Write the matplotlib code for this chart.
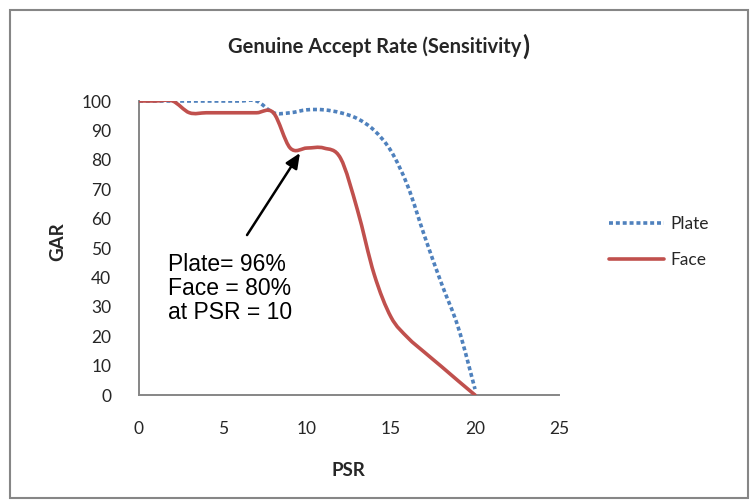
import matplotlib
matplotlib.use("Agg")
import matplotlib.pyplot as plt
from matplotlib.path import Path
from matplotlib.patches import PathPatch, Rectangle
from matplotlib.lines import Line2D

# PSR values and genuine accept rates (%)
psr = [0, 1, 2, 3, 4, 5, 6, 7, 8, 9, 10, 11, 12, 13, 14, 15, 16, 17, 18, 19, 20]
gar_plate = [100, 100, 100, 100, 100, 100, 100, 100, 96, 96, 97, 97, 96, 94, 90, 83, 71, 54, 38, 23, 2]
gar_face = [100, 100, 100, 96, 96, 96, 96, 96, 96, 84, 84, 84, 80.5, 63, 41, 26.5, 19.5, 14.5, 9.7, 4.8, 0]

x_ticks = [0, 5, 10, 15, 20, 25]
y_ticks = [0, 10, 20, 30, 40, 50, 60, 70, 80, 90, 100]

BLUE = "#4F81BD"
RED = "#C0504D"
GREY = "#868686"
TEXT = "#262626"
FONT = "Lato"


def smooth_path(xs, ys):
    """Cubic Bezier path through the points (spreadsheet-style smoothed line)."""
    pts = list(zip(xs, ys))
    n = len(pts)
    verts = [pts[0]]
    codes = [Path.MOVETO]
    for i in range(n - 1):
        p0 = pts[i - 1] if i > 0 else pts[i]
        p1 = pts[i]
        p2 = pts[i + 1]
        p3 = pts[i + 2] if i + 2 < n else pts[i + 1]
        c1 = (p1[0] + (p2[0] - p0[0]) / 6, p1[1] + (p2[1] - p0[1]) / 6)
        c2 = (p2[0] - (p3[0] - p1[0]) / 6, p2[1] - (p3[1] - p1[1]) / 6)
        verts += [c1, c2, p2]
        codes += [Path.CURVE4] * 3
    return Path(verts, codes)


fig = plt.figure(figsize=(7.54, 5.0), dpi=100)
fig.patch.set_facecolor("white")

# outer chart frame
fig.add_artist(Rectangle((10 / 754, 2 / 500), 738 / 754, 488 / 500,
                         transform=fig.transFigure, fill=False,
                         edgecolor=GREY, linewidth=1.5))

ax = fig.add_axes([139 / 754, 105 / 500, 420 / 754, 294 / 500])
ax.set_xlim(0, 25)
ax.set_ylim(0, 100)

plate_style = dict(color=BLUE, linewidth=2.6, linestyle=(0, (1.1, 0.8)),
                   dash_capstyle="butt")
face_style = dict(color=RED, linewidth=2.6, solid_capstyle="round")

ax.add_patch(PathPatch(smooth_path(psr, gar_plate), fill=False,
                       edgecolor=BLUE, linewidth=2.6, linestyle=(0, (1.1, 0.8)),
                       capstyle="butt", zorder=3))
ax.add_patch(PathPatch(smooth_path(psr, gar_face), fill=False,
                       edgecolor=RED, linewidth=2.6, capstyle="round",
                       joinstyle="round", zorder=4))

for side in ("top", "right"):
    ax.spines[side].set_visible(False)
for side in ("left", "bottom"):
    ax.spines[side].set_color(GREY)
    ax.spines[side].set_linewidth(1.4)

ax.set_xticks(x_ticks)
ax.set_yticks(y_ticks)
ax.set_xticklabels([str(v) for v in x_ticks], family=FONT, fontsize=12.5, color=TEXT)
ax.set_yticklabels([str(v) for v in y_ticks], family=FONT, fontsize=12.5, color=TEXT)
ax.tick_params(axis="both", length=0)
ax.tick_params(axis="x", pad=19)
ax.tick_params(axis="y", pad=20)

fig.text(348 / 754, 1 - 471 / 500, "PSR", family=FONT, fontsize=13.5, fontweight="bold",
         ha="center", va="center", color=TEXT)
fig.text(58 / 754, 1 - 242 / 500, "GAR", family=FONT, fontsize=13.5, fontweight="bold",
         ha="center", va="center", rotation=90, color=TEXT)

# title, with its closing bracket set a little larger
title = fig.text(228 / 754, 1 - 47 / 500, "Genuine Accept Rate (Sensitivity",
                 family=FONT, fontsize=14.5, fontweight="bold", ha="left",
                 va="center", color=TEXT)
renderer = fig.canvas.get_renderer()
bb = title.get_window_extent(renderer)
fig.text((bb.x1 + 1) / 754, 1 - 46 / 500, ")", family=FONT, fontsize=18.5,
         fontweight="bold", ha="left", va="center", color=TEXT)

# annotation
ax.annotate("", xy=(9.58, 82.3), xytext=(6.43, 54.4),
            arrowprops=dict(arrowstyle="-|>,head_length=0.9,head_width=0.4",
                            color="black", lw=1.8, shrinkA=0, shrinkB=0))
ax.text(1.7, 48.2, "Plate= 96%\nFace = 80%\nat PSR = 10", family="Liberation Sans",
        fontsize=16.5, ha="left", va="top", linespacing=1.06, color="black")

# legend
handles = [Line2D([], [], **plate_style), Line2D([], [], **face_style)]
fig.legend(handles, ["Plate", "Face"], loc="center left",
           bbox_to_anchor=(593 / 754, 1 - 242 / 500), frameon=False,
           prop=dict(family=FONT, size=12.5), handlelength=3.2,
           handletextpad=0.35, labelspacing=1.2, labelcolor=TEXT)

fig.savefig("out.png", dpi=100)
